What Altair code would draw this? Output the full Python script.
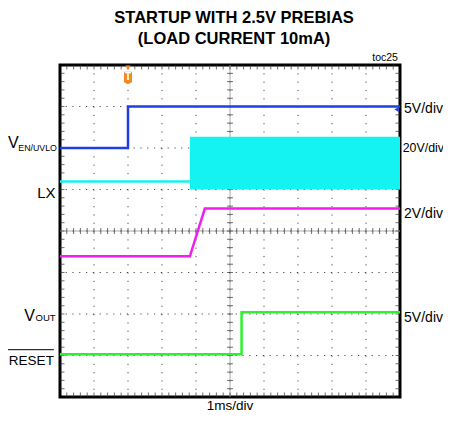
import altair as alt
import pandas as pd

# ---- data (time in ms from left edge, level in scope divisions from bottom) ----
en_t = [0.0, 2.0, 2.0, 10.0]
en_v = [6.0, 6.0, 7.0, 7.0]
lx_t = [0.0, 3.82]
lx_v = [5.19, 5.19]
burst_t = [3.82, 10.0]
burst_lo = [5.0, 5.0]
burst_hi = [6.27, 6.27]
out_t = [0.0, 3.82, 4.26, 10.0]
out_v = [3.39, 3.39, 4.54, 4.54]
rst_t = [0.0, 5.34, 5.34, 10.0]
rst_v = [1.03, 1.03, 2.04, 2.04]

grid_x = [1, 2, 3, 4, 5, 6, 7, 8, 9]
grid_y = [1, 2, 3, 4, 5, 6, 7]
minor_x = [i / 5 for i in range(1, 50)]
minor_y = [i / 5 for i in range(1, 40)]

title_lines = ["STARTUP WITH 2.5V PREBIAS", "(LOAD CURRENT 10mA)"]

FONT = "Liberation Sans, Arial, Helvetica, sans-serif"

W, H = 340, 332
xs = alt.Scale(domain=[0, 10], nice=False, zero=False)
ys = alt.Scale(domain=[0, 8], nice=False, zero=False)
X = lambda f: alt.X(f, scale=xs, axis=None)
Y = lambda f: alt.Y(f, scale=ys, axis=None)

def trace(t, v, color):
    df = pd.DataFrame({"t": t, "v": v, "i": list(range(len(t)))})
    return alt.Chart(df).mark_line(color=color, strokeWidth=2.5, clip=True).encode(
        x=X("t:Q"), y=Y("v:Q"), order="i:Q")

# grid
gx = alt.Chart(pd.DataFrame({"g": grid_x})).mark_rule(
    color="#222", strokeWidth=1, strokeDash=[1.2, 7.1], opacity=0.8).encode(x=X("g:Q"))
gy = alt.Chart(pd.DataFrame({"g": grid_y})).mark_rule(
    color="#222", strokeWidth=1, strokeDash=[1.2, 5.6], opacity=0.8).encode(y=Y("g:Q"))
cx = alt.Chart(pd.DataFrame({"g": [5]})).mark_rule(color="#aaa", strokeWidth=1).encode(x=X("g:Q"))
cy = alt.Chart(pd.DataFrame({"g": [4]})).mark_rule(color="#aaa", strokeWidth=1).encode(y=Y("g:Q"))

# minor ticks
def hticks(level, size):
    df = pd.DataFrame({"p": minor_x, "lvl": [level] * len(minor_x)})
    return alt.Chart(df).mark_tick(orient="vertical", size=size, thickness=1, color="#333", clip=True).encode(
        x=X("p:Q"), y=Y("lvl:Q"))

def vticks(pos, size):
    df = pd.DataFrame({"p": minor_y, "pos": [pos] * len(minor_y)})
    return alt.Chart(df).mark_tick(orient="horizontal", size=size, thickness=1, color="#333", clip=True).encode(
        y=Y("p:Q"), x=X("pos:Q"))

# LX switching burst
burst = alt.Chart(pd.DataFrame({"t": burst_t, "lo": burst_lo, "hi": burst_hi})).mark_area(
    color="#14f2f2", opacity=1, clip=True).encode(x=X("t:Q"), y=Y("lo:Q"), y2="hi:Q")

# trigger marker and channel marker
ORANGE = "#f08a24"
trig_tri = alt.Chart(pd.DataFrame({"t": [2.0], "v": [7.93]})).mark_point(
    shape="triangle-down", filled=True, size=30, color=ORANGE, opacity=1).encode(x=X("t:Q"), y=Y("v:Q"))
trig_box = alt.Chart(pd.DataFrame({"t": [2.0], "v": [7.69]})).mark_point(
    shape="M-0.8,-1.2H0.8V0.9L0,1.3L-0.8,0.9Z", filled=True, size=100, color=ORANGE, opacity=1
).encode(x=X("t:Q"), y=Y("v:Q"))
trig_txt = alt.Chart(pd.DataFrame({"t": [2.0], "v": [7.69], "s": ["T"]})).mark_text(
    font=FONT, fontSize=10, fontWeight="bold", color="white", baseline="middle", dy=-0.5
).encode(x=X("t:Q"), y=Y("v:Q"), text="s:N")
ch_mark = alt.Chart(pd.DataFrame({"t": [9.9], "v": [6.93]})).mark_point(
    shape="triangle-left", filled=True, size=25, color="#1f3fe6", opacity=1).encode(x=X("t:Q"), y=Y("v:Q"))

# text labels
def label(t, v, s, size=14, align="left", baseline="alphabetic", weight="normal"):
    df = pd.DataFrame({"t": [t], "v": [v], "s": [s]})
    return alt.Chart(df).mark_text(
        font=FONT, fontSize=size, align=align, baseline=baseline, color="black", fontWeight=weight
    ).encode(x=X("t:Q"), y=Y("v:Q"), text="s:N")

reset_bar = alt.Chart(pd.DataFrame({"a": [-1.53], "b": [-0.18], "v": [1.14]})).mark_rule(
    color="black", strokeWidth=1).encode(x=X("a:Q"), x2="b:Q", y=Y("v:Q"))

labels = [
    label(5.12, 9.02, title_lines[0], 16.5, align="center", weight="bold"),
    label(5.12, 8.5, title_lines[1], 16.5, align="center", weight="bold"),
    label(-1.53, 5.99, "V", 16),
    label(-0.09, 5.93, "EN/UVLO", 8.8, align="right"),
    label(-0.13, 4.79, "LX", 15, align="right"),
    label(-0.735, 1.84, "V", 16, align="right"),
    label(-0.13, 1.83, "OUT", 9.5, align="right"),
    label(-0.18, 0.78, "RESET", 13.5, align="right"),
    label(10.12, 6.95, "5V/div", 14, baseline="middle"),
    label(10.08, 6.0, "20V/div", 12.4, baseline="middle"),
    label(10.12, 4.42, "2V/div", 14, baseline="middle"),
    label(10.12, 1.91, "5V/div", 14, baseline="middle"),
    label(5.0, -0.325, "1ms/div", 13.5, align="center"),
    label(9.94, 8.09, "toc25", 10.5, align="right"),
]

layers = [gx, gy, cx, cy,
          hticks(8, 9), hticks(0, 9), hticks(4, 6),
          vticks(0, 9), vticks(10, 9), vticks(5, 6),
          burst,
          trace(lx_t, lx_v, "#14f2f2"),
          trace(en_t, en_v, "#1f3fe6"),
          trace(out_t, out_v, "#f01ef0"),
          trace(rst_t, rst_v, "#2ef02e"),
          trig_tri, trig_box, trig_txt, ch_mark, reset_bar] + labels

chart = alt.layer(*layers).properties(
    width=W, height=H,
    autosize=alt.AutoSizeParams(type="none"),
    padding={"left": 52, "top": 57, "right": 43, "bottom": 17},
).configure_view(stroke="black", strokeWidth=3)

chart.save("out.html", embed_options={"renderer": "svg", "actions": False})
